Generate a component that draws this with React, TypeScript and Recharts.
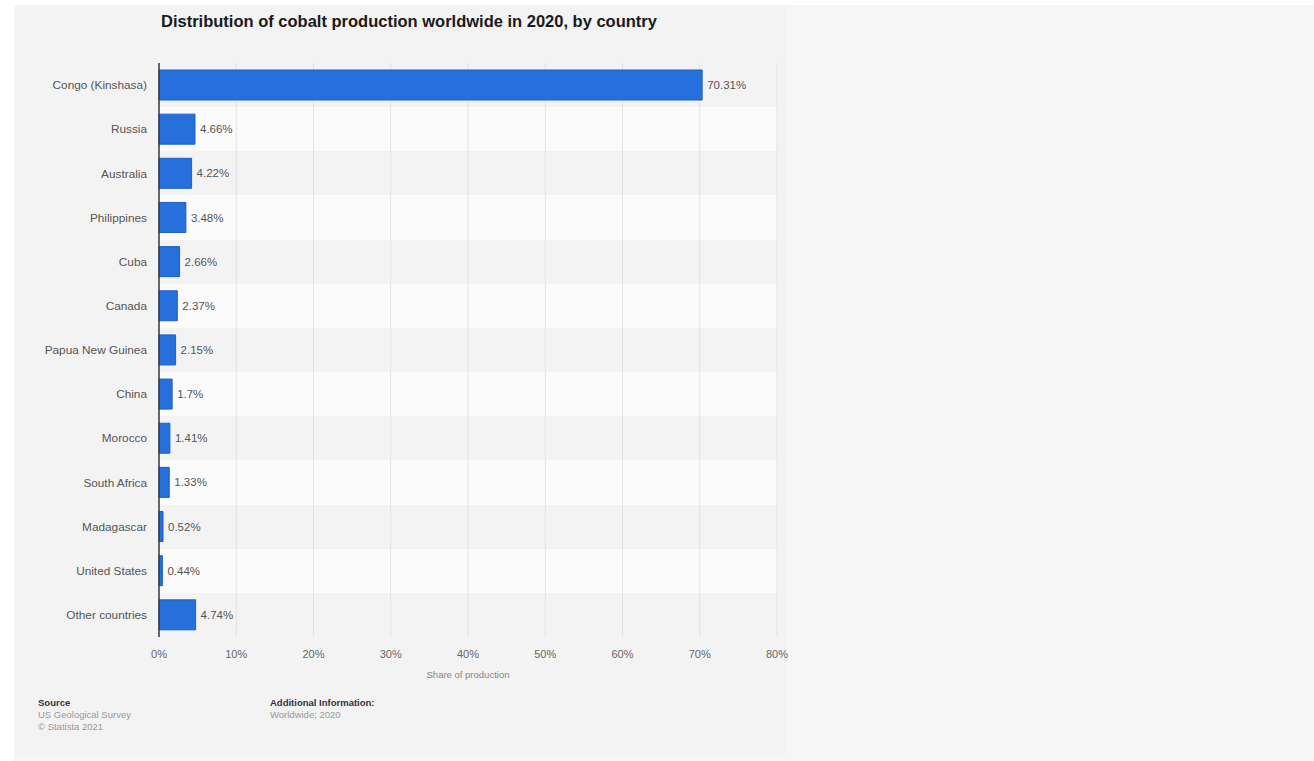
import { BarChart, Bar, XAxis, YAxis, CartesianGrid, LabelList } from 'recharts'

const countries = [
  'Congo (Kinshasa)',
  'Russia',
  'Australia',
  'Philippines',
  'Cuba',
  'Canada',
  'Papua New Guinea',
  'China',
  'Morocco',
  'South Africa',
  'Madagascar',
  'United States',
  'Other countries',
]
const shares = [70.31, 4.66, 4.22, 3.48, 2.66, 2.37, 2.15, 1.7, 1.41, 1.33, 0.52, 0.44, 4.74]
const xTicks = [0, 10, 20, 30, 40, 50, 60, 70, 80]

const data = countries.map((country, i) => ({ country, share: shares[i] }))

const FONT = '"Liberation Sans", Arial, Helvetica, sans-serif'

// band boundaries so the stripes fill each category row
const rowLines = ({ offset }: any) => {
  const n = countries.length
  const step = offset.height / n
  return Array.from({ length: n + 1 }, (_, i) => offset.top + i * step)
}

export default function App() {
  return (
    <div
      style={{
        position: 'absolute',
        left: 0,
        top: 0,
        width: 1314,
        height: 761,
        background: '#f6f6f6',
        fontFamily: FONT,
      }}
    >
      <div style={{ position: 'absolute', left: 0, top: 0, width: 1314, height: 5, background: '#fff' }} />
      <div style={{ position: 'absolute', left: 0, top: 0, width: 14, height: 761, background: '#fff' }} />
      <div style={{ position: 'absolute', left: 14, top: 5, width: 772, height: 750, background: '#f3f3f3' }} />

      <div
        style={{
          position: 'absolute',
          left: 161,
          top: 12,
          fontSize: 16.5,
          fontWeight: 700,
          color: '#1a1a1a',
          whiteSpace: 'nowrap',
        }}
      >
        Distribution of cobalt production worldwide in 2020, by country
      </div>

      <div style={{ position: 'absolute', left: 0, top: 0 }}>
        <BarChart
          width={800}
          height={700}
          data={data}
          layout="vertical"
          margin={{ top: 63, right: 23, bottom: 18, left: 0 }}
          barSize={30}
        >
          <CartesianGrid
            vertical={false}
            horizontal
            stroke="transparent"
            horizontalFill={['#f3f3f3', '#fbfbfb']}
            horizontalCoordinatesGenerator={rowLines}
          />
          <CartesianGrid vertical horizontal={false} stroke="#e2e2e2" />
          <XAxis
            type="number"
            domain={[0, 80]}
            ticks={xTicks}
            tickFormatter={(v) => `${v}%`}
            axisLine={false}
            tickLine={false}
            tickSize={0}
            tickMargin={13}
            height={45}
            tick={{ fontSize: 11, fill: '#666', fontFamily: FONT }}
            label={{
              value: 'Share of production',
              position: 'insideBottom',
              offset: 4,
              style: { fontSize: 9.5, fill: '#888', fontFamily: FONT },
            }}
          />
          <YAxis
            type="category"
            dataKey="country"
            width={159}
            axisLine={{ stroke: '#3a3a3a', strokeWidth: 1.5 }}
            tickLine={false}
            tickSize={0}
            tickMargin={12}
            interval={0}
            tick={{ fontSize: 11.8, fill: '#555', fontFamily: FONT }}
          />
          <Bar dataKey="share" fill="#2570dc" stroke="#1c5fc2" strokeWidth={1} isAnimationActive={false}>
            <LabelList
              dataKey="share"
              position="right"
              offset={5}
              formatter={(v: any) => `${v}%`}
              style={{ fontSize: 11.5, fill: '#555', fontFamily: FONT }}
            />
          </Bar>
        </BarChart>
      </div>

      <div style={{ position: 'absolute', left: 38, top: 697, fontSize: 9.5, lineHeight: '12px', color: '#999' }}>
        <div style={{ color: '#333', fontWeight: 600 }}>Source</div>
        <div>US Geological Survey</div>
        <div>© Statista 2021</div>
      </div>
      <div style={{ position: 'absolute', left: 270, top: 697, fontSize: 9.5, lineHeight: '12px', color: '#999' }}>
        <div style={{ color: '#333', fontWeight: 600 }}>Additional Information:</div>
        <div>Worldwide; 2020</div>
      </div>
    </div>
  )
}
